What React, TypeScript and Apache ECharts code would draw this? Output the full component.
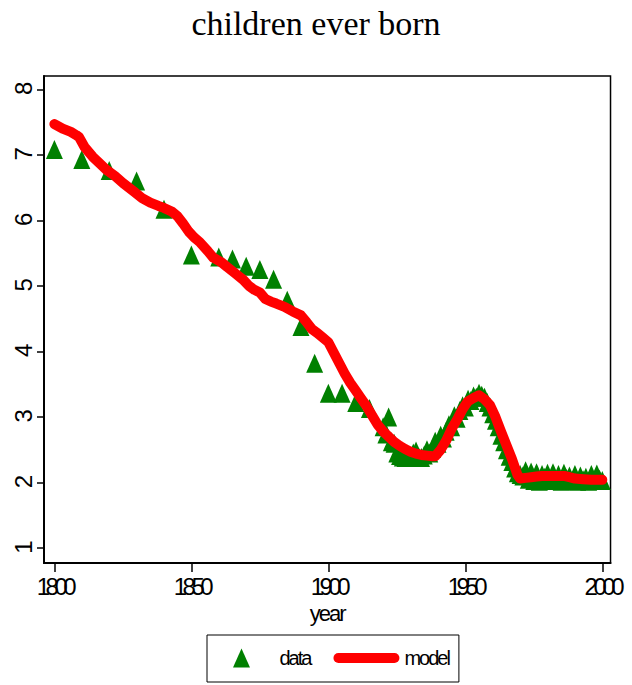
import React, { useEffect, useRef } from "react";
import * as echarts from "echarts";

const titleText = "children ever born";
const xTickValues = [1800, 1850, 1900, 1950, 2000];
const yTickValues = [1, 2, 3, 4, 5, 6, 7, 8];

const dataYears = [
  1800, 1810, 1820, 1830, 1840, 1850, 1860, 1865, 1870, 1875, 1880, 1885, 1890, 1895, 1900, 1905, 1910, 1915,
  1920, 1921, 1922, 1923, 1924, 1925, 1926, 1927, 1928, 1929, 1930, 1931, 1932, 1933, 1934, 1935, 1936, 1937,
  1938, 1939, 1940, 1941, 1942, 1943, 1944, 1945, 1946, 1947, 1948, 1949, 1950, 1951, 1952, 1953, 1954, 1955,
  1956, 1957, 1958, 1959, 1960, 1961, 1962, 1963, 1964, 1965, 1966, 1967, 1968, 1969, 1970, 1971, 1972, 1973,
  1974, 1975, 1976, 1977, 1978, 1979, 1980, 1981, 1982, 1983, 1984, 1985, 1986, 1987, 1988, 1989, 1990, 1991,
  1992, 1993, 1994, 1995, 1996, 1997, 1998, 1999, 2000,
];
const dataValues = [
  7.08, 6.93, 6.76, 6.6, 6.17, 5.47, 5.44, 5.41, 5.3, 5.25, 5.1, 4.78, 4.38, 3.82, 3.36, 3.36, 3.22, 3.13,
  2.85, 2.74, 3.0, 2.62, 2.6, 2.45, 2.41, 2.39, 2.38, 2.4, 2.38, 2.45, 2.48, 2.39, 2.38, 2.42, 2.5, 2.45,
  2.52, 2.63, 2.6, 2.72, 2.68, 2.78, 2.88, 2.85, 3.02, 2.98, 3.1, 3.17, 3.15, 3.27, 3.25, 3.32, 3.3, 3.36,
  3.33, 3.3, 3.22, 3.15, 3.05, 2.95, 2.85, 2.72, 2.62, 2.5, 2.4, 2.32, 2.22, 2.15, 2.12, 2.1, 2.18, 2.05,
  2.16, 2.03, 2.15, 2.02, 2.12, 2.08, 2.14, 2.03, 2.15, 2.05, 2.12, 2.02, 2.14, 2.06, 2.1, 2.03, 2.12, 2.02,
  2.1, 2.04, 2.08, 2.02, 2.12, 2.03, 2.13, 2.05, 2.03,
];

const modelYears = [
  1800, 1803, 1806, 1808, 1809, 1811, 1814, 1817, 1819, 1822, 1825, 1829, 1832, 1835, 1838, 1840, 1843, 1845,
  1847, 1849, 1851, 1853, 1856, 1858, 1861, 1863, 1866, 1869, 1871, 1873, 1875, 1877, 1879, 1881, 1884, 1887,
  1890, 1892, 1894, 1896, 1898, 1900, 1902, 1904, 1906, 1908, 1910, 1912, 1914, 1916, 1918, 1920, 1922, 1924,
  1926, 1928, 1930, 1932, 1934, 1936, 1938, 1939, 1941, 1943, 1945, 1947, 1949, 1951, 1953, 1955, 1957, 1959,
  1961, 1963, 1965, 1967, 1969, 1970, 1972, 1974, 1976, 1978, 1982, 1986, 1988, 1990, 1993, 1996, 2000,
];
const modelValues = [
  7.47, 7.4, 7.35, 7.3, 7.27, 7.12, 6.97, 6.85, 6.77, 6.68, 6.57, 6.44, 6.34, 6.27, 6.22, 6.19, 6.13, 6.06,
  5.95, 5.83, 5.74, 5.67, 5.53, 5.43, 5.36, 5.29, 5.19, 5.09, 5.0, 4.94, 4.9, 4.8, 4.76, 4.73, 4.68, 4.61,
  4.55, 4.45, 4.34, 4.28, 4.21, 4.14, 3.98, 3.82, 3.66, 3.52, 3.4, 3.28, 3.16, 3.02, 2.88, 2.78, 2.7, 2.62,
  2.56, 2.51, 2.47, 2.44, 2.42, 2.41, 2.4, 2.4, 2.5, 2.64, 2.82, 2.96, 3.12, 3.24, 3.29, 3.33, 3.27, 3.18,
  3.0, 2.78, 2.57, 2.36, 2.12, 2.06, 2.07, 2.08, 2.09, 2.1, 2.1, 2.1, 2.08, 2.06, 2.05, 2.04, 2.04,
];

const SANS = "Liberation Sans";
const TICKFONT = "Arial, Liberation Sans";

export default function App() {
  const ref = useRef<HTMLDivElement>(null);
  useEffect(() => {
    if (!ref.current) return;
    const chart = echarts.init(ref.current, null, { renderer: "svg" });
    const dataPts = dataYears.map((y, i) => [y, dataValues[i]]);
    const modelPts = modelYears.map((y, i) => [y, modelValues[i]]);
    chart.setOption({
      animation: false,
      backgroundColor: "#ffffff",
      title: {
        text: titleText,
        left: "center",
        top: 1,
        textStyle: { fontFamily: "Liberation Serif", fontSize: 34, fontWeight: "normal", color: "#000" },
      },
      legend: {
        left: 207,
        top: 635,
        orient: "horizontal",
        padding: [13, 0, 14, 26],
        itemGap: 15,
        itemWidth: 66,
        itemHeight: 19,
        borderColor: "#000",
        borderWidth: 1,
        textStyle: { fontFamily: SANS, fontSize: 20, color: "#000" },
        data: [
          { name: "data", icon: "path://M0,19L8.5,0L17,19Z", itemStyle: { color: "#008000", borderWidth: 0 } },
          {
            name: "model",
            icon: "path://M5,0L61,0A5,5,0,0,1,61,10L5,10A5,5,0,0,1,5,0Z",
            itemStyle: { color: "#ff0000", borderWidth: 0 },
          },
        ],
      },
      grid: {
        left: 44,
        right: 14,
        top: 76,
        bottom: 122,
        show: true,
        borderColor: "#000",
        borderWidth: 1.5,
        backgroundColor: "#fff",
      },
      xAxis: {
        type: "value",
        min: 1796.2,
        max: 2003,
        name: "year",
        nameLocation: "middle",
        nameGap: 36,
        nameTextStyle: { fontFamily: SANS, fontSize: 22, color: "#000" },
        axisLine: { show: true, onZero: false, lineStyle: { color: "#000", width: 2 } },
        axisTick: { show: true, length: 9, customValues: xTickValues, lineStyle: { color: "#000", width: 1.5 } },
        axisLabel: {
          customValues: xTickValues,
          formatter: (v: number) => String(v),
          fontFamily: TICKFONT,
          fontSize: 24,
          color: "#000",
          margin: 11,
        },
        splitLine: { show: false },
      },
      yAxis: {
        type: "value",
        min: 0.771,
        max: 8.203,
        axisLine: { show: true, onZero: false, lineStyle: { color: "#000", width: 2 } },
        axisTick: { show: true, length: 7, customValues: yTickValues, lineStyle: { color: "#000", width: 1.5 } },
        axisLabel: {
          customValues: yTickValues,
          rotate: 90,
          fontFamily: SANS,
          fontSize: 24,
          color: "#000",
          margin: 9,
        },
        splitLine: { show: false },
      },
      series: [
        {
          name: "data",
          type: "scatter",
          data: dataPts,
          symbol: "triangle",
          symbolSize: [17, 19],
          itemStyle: { color: "#008000", opacity: 1 },
          z: 2,
        },
        {
          name: "model",
          type: "line",
          data: modelPts,
          showSymbol: false,
          symbol: "none",
          color: "#ff0000",
          lineStyle: { color: "#ff0000", width: 10, cap: "round", join: "round" },
          z: 3,
        },
      ],
    });
    return () => chart.dispose();
  }, []);
  return (
    <>
      <style>{`svg text[style*="Liberation Sans"] { letter-spacing: -2px; } svg text[style*="Arial"] { letter-spacing: -4.5px; }`}</style>
      <div ref={ref} style={{ position: "fixed", left: 0, top: 0, width: 632, height: 685 }} />
    </>
  );
}
